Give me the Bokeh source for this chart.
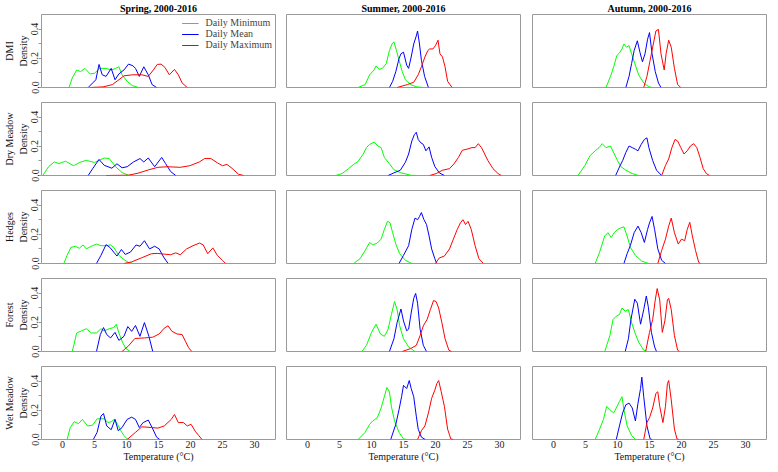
from bokeh.plotting import figure
from bokeh.layouts import gridplot
from bokeh.models import (FixedTicker, LinearAxis, Range1d, Legend, LegendItem,
                          PrintfTickFormatter)
from bokeh.embed import file_html
from bokeh.resources import INLINE

# ---------------- data ----------------
season_titles = ["Spring, 2000-2016", "Summer, 2000-2016", "Autumn, 2000-2016"]
site_names = ["DMI", "Dry Meadow", "Hedges", "Forest", "Wet Meadow"]
series_names = ["Daily Minimum", "Daily Mean", "Daily Maximum"]
series_colors = ["#00FF00", "#0000FF", "#FF0000"]
x_ticks = [0, 5, 10, 15, 20, 25, 30]
y_ticks = [0.0, 0.2, 0.4]
y_minor_ticks = [0.1, 0.3]

# (temperature, density) pairs
DMI_SPR_MIN = [(1.0,0),(1.5,0.064),(2.2,0.12),(2.8,0.109),(3.5,0.131),(4.3,0.093),(5.0,0.098),(5.8,0.131),(6.8,0.131),(7.6,0.12),(8.3,0.131),(8.8,0.142),(9.3,0.087),(10.1,0.042),(10.9,0.013),(11.9,0)]
DMI_SPR_MEAN = [(4.0,0),(5.2,0.053),(5.7,0.158),(6.2,0.087),(6.8,0.076),(7.6,0.131),(8.2,0.053),(8.8,0.093),(9.6,0.12),(10.3,0.16),(11.0,0.149),(11.4,0.131),(12.0,0.076),(12.7,0.142),(13.4,0.087),(14.0,0.02),(14.7,0)]
DMI_SPR_MAX = [(4.3,0),(6.3,0.004),(7.8,0.02),(8.8,0.053),(9.6,0.08),(10.9,0.087),(12.4,0.087),(13.4,0.076),(14.2,0.12),(14.8,0.158),(15.4,0.16),(16.0,0.138),(16.7,0.087),(17.5,0.124),(18.1,0.087),(18.7,0.031),(19.5,0)]

DRY_SPR_MIN = [(-3.1,0),(-2.2,0.06),(-1.3,0.093),(-0.56,0.082),(0.46,0.098),(1.7,0.067),(2.7,0.09),(3.7,0.104),(5.0,0.089),(6.5,0.12),(7.3,0.116),(8.3,0.06),(9.3,0.02),(10.3,0.002),(11.1,0)]
DRY_SPR_MEAN = [(4.0,0),(4.75,0.05),(5.7,0.11),(6.5,0.07),(7.7,0.05),(8.5,0.08),(9.3,0.053),(10.1,0.06),(11.1,0.093),(12.1,0.116),(12.7,0.093),(13.4,0.12),(14.4,0.06),(15.5,0.124),(16.1,0.082),(16.9,0.027),(17.7,0)]
DRY_SPR_MAX = [(6.8,0),(10.3,0.002),(11.8,0.016),(13.4,0.038),(14.9,0.056),(16.4,0.06),(18.4,0.056),(19.9,0.067),(21.4,0.093),(22.2,0.116),(23.2,0.116),(24.2,0.087),(25.0,0.067),(25.7,0.076),(26.5,0.049),(27.5,0.009),(28.3,0)]

HEDGES_SPR_MIN = [(0.2,0),(0.7,0.056),(1.3,0.11),(2.0,0.118),(2.6,0.104),(3.2,0.127),(3.7,0.1),(4.5,0.118),(5.3,0.133),(6.0,0.122),(6.8,0.122),(7.5,0.127),(8.0,0.11),(8.8,0.056),(9.6,0.027),(10.3,0.007),(11.1,0)]
HEDGES_SPR_MEAN = [(5.3,0),(6.0,0.056),(6.8,0.129),(7.4,0.11),(8.0,0.078),(8.5,0.051),(9.2,0.096),(9.8,0.062),(10.6,0.078),(11.5,0.127),(12.1,0.118),(12.8,0.156),(13.6,0.1),(14.4,0.118),(15.1,0.1),(15.8,0.044),(16.5,0)]
HEDGES_SPR_MAX = [(9.6,0),(10.8,0.011),(12.3,0.038),(13.9,0.067),(14.9,0.069),(15.9,0.064),(16.9,0.06),(17.7,0.073),(18.4,0.06),(19.4,0.1),(20.4,0.122),(21.4,0.14),(22.0,0.127),(22.7,0.067),(23.5,0.107),(24.2,0.056),(25.0,0.022),(25.5,0)]

FOREST_SPR_MIN = [(1.5,0),(1.8,0.05),(2.2,0.127),(3.0,0.142),(3.7,0.156),(4.5,0.127),(5.3,0.127),(6.0,0.156),(6.5,0.142),(7.3,0.156),(8.0,0.164),(8.4,0.187),(8.8,0.127),(9.4,0.06),(9.9,0.02),(10.6,0)]
FOREST_SPR_MEAN = [(5.3,0),(5.9,0.116),(6.4,0.164),(6.9,0.116),(7.5,0.093),(8.2,0.131),(8.8,0.076),(9.6,0.104),(10.2,0.171),(10.8,0.138),(11.4,0.178),(12.1,0.104),(12.8,0.198),(13.5,0.104),(14.1,0)]
FOREST_SPR_MAX = [(9.3,0),(10.3,0.038),(11.3,0.089),(12.8,0.093),(14.1,0.098),(15.1,0.12),(15.9,0.16),(16.5,0.176),(17.1,0.138),(17.9,0.12),(18.7,0.116),(19.2,0.071),(19.7,0.027),(20.2,0)]

WET_SPR_MIN = [(0.7,0),(1.2,0.082),(1.8,0.122),(2.5,0.109),(3.1,0.138),(3.9,0.093),(4.7,0.098),(5.4,0.142),(6.5,0.142),(7.1,0.116),(7.6,0.122),(8.1,0.138),(8.6,0.104),(9.1,0.06),(9.6,0.027),(10.1,0.004),(10.6,0)]
WET_SPR_MEAN = [(4.8,0),(5.4,0.049),(6.0,0.16),(6.4,0.178),(6.9,0.093),(7.6,0.067),(8.2,0.138),(8.7,0.06),(9.3,0.082),(10.1,0.138),(10.8,0.153),(11.4,0.138),(12.0,0.082),(12.6,0.116),(13.4,0.133),(14.0,0.082),(14.7,0.016),(15.2,0)]
WET_SPR_MAX = [(10.1,0),(11.4,0.049),(12.4,0.087),(13.9,0.082),(14.9,0.078),(15.9,0.093),(17.0,0.138),(17.5,0.171),(18.1,0.116),(18.9,0.116),(19.5,0.093),(20.1,0.104),(20.8,0.053),(21.3,0.027),(21.8,0)]

DMI_SUM_MIN = [(7.9,0),(9.0,0.02),(9.7,0.087),(10.4,0.12),(10.7,0.147),(11.2,0.124),(11.7,0.131),(12.3,0.164),(12.8,0.253),(13.2,0.298),(13.5,0.313),(13.9,0.253),(14.3,0.187),(14.8,0.109),(15.3,0.053),(16.1,0.02),(17.1,0.004),(18.1,0)]
DMI_SUM_MEAN = [(12.8,0),(13.3,0.042),(13.8,0.109),(14.3,0.198),(14.6,0.231),(15.0,0.242),(15.5,0.153),(15.8,0.131),(16.2,0.209),(16.6,0.298),(17.0,0.353),(17.2,0.387),(17.5,0.298),(17.8,0.187),(18.3,0.076),(18.9,0)]
DMI_SUM_MAX = [(14.0,0),(15.6,0.02),(16.6,0.036),(17.3,0.087),(17.8,0.142),(18.35,0.209),(18.8,0.253),(19.1,0.264),(19.6,0.264),(20.0,0.287),(20.4,0.324),(20.7,0.231),(21.1,0.209),(21.5,0.142),(21.9,0.042),(22.6,0)]

DRY_SUM_MIN = [(4.4,0),(5.4,0.013),(6.4,0.047),(7.2,0.076),(7.9,0.096),(8.7,0.147),(9.2,0.191),(9.7,0.213),(10.4,0.229),(11.0,0.202),(11.5,0.191),(12.0,0.124),(12.8,0.08),(13.5,0.04),(14.5,0.02),(16.1,0.002),(17.1,0)]
DRY_SUM_MEAN = [(12.6,0),(13.5,0.018),(14.5,0.036),(15.3,0.091),(15.8,0.147),(16.3,0.236),(16.7,0.28),(17.0,0.296),(17.3,0.247),(17.7,0.224),(18.1,0.213),(18.5,0.169),(19.0,0.196),(19.4,0.124),(19.9,0.062),(20.6,0.018),(21.4,0)]
DRY_SUM_MAX = [(19.1,0),(20.1,0.013),(21.1,0.036),(22.2,0.047),(22.9,0.08),(23.6,0.124),(24.2,0.173),(24.9,0.18),(25.7,0.191),(26.2,0.191),(26.7,0.218),(27.2,0.191),(27.7,0.147),(28.2,0.102),(29.0,0.047),(29.8,0.013),(30.3,0)]

HEDGES_SUM_MIN = [(7.2,0),(8.2,0.033),(9.0,0.089),(9.7,0.144),(10.2,0.127),(10.9,0.14),(11.5,0.167),(12.0,0.233),(12.5,0.289),(12.9,0.278),(13.3,0.211),(13.8,0.133),(14.4,0.067),(15.3,0.022),(16.3,0)]
HEDGES_SUM_MEAN = [(14.3,0),(15.0,0.056),(15.8,0.122),(16.3,0.233),(16.8,0.311),(17.2,0.3),(17.5,0.322),(17.8,0.349),(18.2,0.3),(18.6,0.267),(19.0,0.189),(19.4,0.1),(19.9,0.033),(20.2,0)]
HEDGES_SUM_MAX = [(20.0,0),(20.6,0.038),(21.4,0.051),(22.2,0.1),(22.8,0.167),(23.4,0.233),(23.9,0.278),(24.3,0.3),(24.7,0.267),(25.1,0.289),(25.6,0.233),(26.2,0.122),(26.8,0.033),(27.5,0)]

FOREST_SUM_MIN = [(8.5,0),(9.2,0.042),(10.0,0.131),(10.7,0.187),(11.4,0.12),(12.0,0.104),(12.6,0.153),(13.1,0.253),(13.6,0.342),(14.0,0.287),(14.4,0.176),(15.0,0.087),(15.8,0.031),(16.8,0)]
FOREST_SUM_MEAN = [(12.8,0),(13.5,0.087),(14.0,0.198),(14.6,0.291),(15.0,0.209),(15.5,0.142),(15.8,0.153),(16.2,0.264),(16.6,0.364),(16.9,0.398),(17.2,0.331),(17.6,0.153),(18.1,0.042),(18.6,0)]
FOREST_SUM_MAX = [(14.8,0),(16.1,0.02),(17.0,0.042),(17.6,0.109),(18.1,0.176),(18.7,0.22),(19.2,0.287),(19.7,0.349),(20.1,0.342),(20.5,0.298),(21.0,0.198),(21.5,0.087),(22.1,0.009),(22.5,0)]

WET_SUM_MIN = [(7.9,0),(9.0,0.049),(9.7,0.104),(10.2,0.127),(10.9,0.149),(11.5,0.216),(12.0,0.293),(12.4,0.356),(12.8,0.327),(13.1,0.227),(13.6,0.127),(14.3,0.049),(15.0,0.004),(15.5,0)]
WET_SUM_MEAN = [(13.0,0),(13.8,0.104),(14.3,0.204),(14.7,0.293),(15.0,0.371),(15.5,0.349),(15.9,0.404),(16.2,0.349),(16.6,0.293),(17.0,0.16),(17.3,0.071),(17.8,0.016),(18.4,0)]
WET_SUM_MAX = [(17.2,0),(17.8,0.06),(18.35,0.093),(18.9,0.182),(19.4,0.282),(19.9,0.338),(20.2,0.382),(20.5,0.404),(20.9,0.327),(21.4,0.227),(21.9,0.071),(22.4,0.004),(22.8,0)]

DMI_AUT_MIN = [(8.2,0),(8.9,0.076),(9.4,0.142),(9.9,0.22),(10.3,0.236),(10.7,0.264),(11.0,0.298),(11.4,0.276),(11.8,0.287),(12.2,0.231),(12.7,0.164),(13.3,0.087),(14.1,0.031),(14.9,0.004),(15.5,0)]
DMI_AUT_MEAN = [(11.3,0),(11.8,0.076),(12.2,0.164),(12.6,0.253),(13.1,0.32),(13.5,0.242),(13.9,0.176),(14.3,0.231),(14.7,0.331),(15.0,0.376),(15.4,0.231),(15.9,0.109),(16.4,0.031),(16.8,0)]
DMI_AUT_MAX = [(14.1,0),(14.6,0.076),(15.1,0.187),(15.6,0.298),(16.0,0.387),(16.4,0.398),(16.8,0.231),(17.3,0.12),(17.6,0.231),(18.0,0.324),(18.4,0.276),(18.9,0.131),(19.4,0.02),(19.9,0)]

DRY_AUT_MIN = [(3.8,0),(4.2,0.024),(4.9,0.069),(5.7,0.136),(6.5,0.169),(7.1,0.191),(7.6,0.218),(8.2,0.191),(8.9,0.202),(9.5,0.147),(10.0,0.102),(10.5,0.062),(11.3,0.036),(12.3,0.013),(13.3,0)]
DRY_AUT_MEAN = [(9.7,0),(10.3,0.058),(10.8,0.102),(11.3,0.158),(11.8,0.202),(12.3,0.191),(12.8,0.18),(13.2,0.169),(13.7,0.213),(14.2,0.247),(14.6,0.258),(14.9,0.191),(15.5,0.102),(16.1,0.036),(16.9,0)]
DRY_AUT_MAX = [(16.9,0),(17.5,0.069),(18.0,0.113),(18.5,0.191),(19.0,0.247),(19.4,0.236),(19.9,0.191),(20.4,0.147),(20.9,0.169),(21.4,0.202),(21.9,0.218),(22.4,0.191),(22.9,0.124),(23.4,0.047),(23.9,0.013),(24.4,0)]

HEDGES_AUT_MIN = [(6.5,0),(7.2,0.078),(8.0,0.189),(8.5,0.211),(9.0,0.178),(9.5,0.211),(10.0,0.233),(10.5,0.244),(11.0,0.251),(11.5,0.189),(12.0,0.111),(12.8,0.056),(13.8,0.016),(14.9,0)]
HEDGES_AUT_MEAN = [(11.0,0),(11.5,0.067),(12.0,0.122),(12.6,0.211),(13.2,0.256),(13.7,0.211),(14.2,0.144),(14.7,0.233),(15.0,0.278),(15.4,0.322),(15.8,0.233),(16.3,0.1),(16.9,0.022),(17.5,0)]
HEDGES_AUT_MAX = [(16.3,0),(16.9,0.089),(17.5,0.167),(18.0,0.256),(18.4,0.311),(18.9,0.211),(19.5,0.133),(20.0,0.167),(20.5,0.156),(20.9,0.233),(21.3,0.282),(21.7,0.189),(22.2,0.089),(22.7,0.007),(23.0,0)]

FOREST_AUT_MIN = [(8.0,0),(8.8,0.109),(9.3,0.22),(9.8,0.242),(10.3,0.253),(10.7,0.298),(11.2,0.276),(11.7,0.287),(12.2,0.198),(12.7,0.131),(13.3,0.064),(14.1,0.009),(14.6,0)]
FOREST_AUT_MEAN = [(11.2,0),(11.7,0.087),(12.1,0.22),(12.7,0.358),(13.1,0.331),(13.6,0.187),(14.1,0.287),(14.5,0.38),(14.8,0.309),(15.3,0.131),(15.8,0.031),(16.1,0)]
FOREST_AUT_MAX = [(14.4,0),(15.0,0.131),(15.5,0.22),(15.9,0.353),(16.2,0.431),(16.6,0.353),(17.0,0.131),(17.4,0.209),(17.8,0.353),(18.0,0.364),(18.4,0.287),(18.9,0.109),(19.4,0.009),(19.7,0)]

WET_AUT_MIN = [(6.5,0),(7.2,0.071),(7.8,0.138),(8.3,0.227),(8.8,0.204),(9.4,0.182),(9.8,0.216),(10.3,0.26),(10.7,0.293),(11.0,0.204),(11.5,0.093),(12.2,0.027),(12.8,0)]
WET_AUT_MEAN = [(9.8,0),(10.3,0.093),(10.8,0.182),(11.3,0.238),(11.8,0.249),(12.3,0.216),(12.8,0.127),(13.2,0.249),(13.6,0.349),(13.8,0.427),(14.1,0.293),(14.6,0.093),(15.1,0.004),(15.4,0)]
WET_AUT_MAX = [(14.1,0),(14.6,0.116),(15.0,0.149),(15.5,0.216),(16.0,0.316),(16.3,0.327),(16.6,0.227),(17.1,0.116),(17.5,0.227),(17.8,0.382),(18.0,0.404),(18.4,0.271),(18.9,0.071),(19.3,0.004),(19.6,0)]

panel_curves = [
    [[DMI_SPR_MIN, DMI_SPR_MEAN, DMI_SPR_MAX], [DMI_SUM_MIN, DMI_SUM_MEAN, DMI_SUM_MAX], [DMI_AUT_MIN, DMI_AUT_MEAN, DMI_AUT_MAX]],
    [[DRY_SPR_MIN, DRY_SPR_MEAN, DRY_SPR_MAX], [DRY_SUM_MIN, DRY_SUM_MEAN, DRY_SUM_MAX], [DRY_AUT_MIN, DRY_AUT_MEAN, DRY_AUT_MAX]],
    [[HEDGES_SPR_MIN, HEDGES_SPR_MEAN, HEDGES_SPR_MAX], [HEDGES_SUM_MIN, HEDGES_SUM_MEAN, HEDGES_SUM_MAX], [HEDGES_AUT_MIN, HEDGES_AUT_MEAN, HEDGES_AUT_MAX]],
    [[FOREST_SPR_MIN, FOREST_SPR_MEAN, FOREST_SPR_MAX], [FOREST_SUM_MIN, FOREST_SUM_MEAN, FOREST_SUM_MAX], [FOREST_AUT_MIN, FOREST_AUT_MEAN, FOREST_AUT_MAX]],
    [[WET_SPR_MIN, WET_SPR_MEAN, WET_SPR_MAX], [WET_SUM_MIN, WET_SUM_MEAN, WET_SUM_MAX], [WET_AUT_MIN, WET_AUT_MEAN, WET_AUT_MAX]],
]

# ---------------- styling ----------------
SERIF = "Liberation Serif"
FRAME_W, FRAME_H = 234, 73
LEFT_B = [30, 1, 1]
RIGHT_B = [10, 11, 1]
GRAY = "#9a9a9a"

rows = []
for r, site in enumerate(site_names):
    row = []
    for c in range(3):
        top_b = 4 if r == 0 else 8
        bot_b = 18 if r == 4 else 7
        p = figure(frame_width=FRAME_W, frame_height=FRAME_H,
                   x_range=Range1d(-3.3, 33.3), y_range=Range1d(0, 0.5),
                   output_backend="svg", toolbar_location=None,
                   title=(season_titles[c] if r == 0 else None),
                   x_axis_location=("below" if r == 4 else None),
                   y_axis_location=("left" if c == 0 else None),
                   min_border_left=LEFT_B[c], min_border_right=RIGHT_B[c],
                   min_border_top=top_b, min_border_bottom=bot_b)
        p.grid.visible = False
        p.outline_line_color = GRAY
        p.outline_line_width = 1
        p.background_fill_color = "white"
        p.border_fill_color = "white"
        if r == 0:
            p.title.align = "center"
            p.title.text_font = SERIF
            p.title.text_font_size = "10px"
            p.title.text_font_style = "bold"
            p.title.text_color = "black"
            p.title.standoff = 1
            p.title.offset = 0
        if r == 4:
            xa = p.xaxis[0]
            xa.ticker = FixedTicker(ticks=x_ticks)
            xa.axis_label = "Temperature (°C)"
            xa.axis_line_color = None
            xa.major_tick_out = 0
            xa.major_tick_in = 0
            xa.minor_tick_out = 0
            xa.minor_tick_in = 0
            xa.major_label_standoff = 1
            xa.axis_label_standoff = 0
            xa.major_label_text_font = SERIF
            xa.major_label_text_font_size = "10px"
            xa.major_label_text_color = "#222222"
            xa.axis_label_text_font = SERIF
            xa.axis_label_text_font_size = "10px"
            xa.axis_label_text_font_style = "normal"
            xa.axis_label_text_color = "#111111"
        if c == 0:
            ya = p.yaxis[0]
            ya.ticker = FixedTicker(ticks=y_ticks, minor_ticks=y_minor_ticks)
            ya.formatter = PrintfTickFormatter(format="%.1f")
            ya.major_label_orientation = "vertical"
            ya.axis_label = "Density"
            ya.axis_line_color = None
            ya.major_tick_line_color = GRAY
            ya.minor_tick_line_color = GRAY
            ya.major_tick_out = 3
            ya.major_tick_in = 0
            ya.minor_tick_out = 3
            ya.minor_tick_in = 0
            ya.major_label_standoff = 0
            ya.axis_label_standoff = 0
            ya.major_label_text_font = SERIF
            ya.major_label_text_font_size = "10px"
            ya.major_label_text_color = "#222222"
            ya.axis_label_text_font = SERIF
            ya.axis_label_text_font_size = "10px"
            ya.axis_label_text_font_style = "normal"
            ya.axis_label_text_color = "#111111"
            site_axis = LinearAxis(axis_label=site, ticker=FixedTicker(ticks=[]),
                                   axis_line_color=None, major_tick_out=0, major_tick_in=0,
                                   minor_tick_out=0, minor_tick_in=0,
                                   major_label_text_font_size="0px",
                                   major_label_standoff=0, axis_label_standoff=0,
                                   axis_label_text_font=SERIF,
                                   axis_label_text_font_size="10px",
                                   axis_label_text_font_style="normal",
                                   axis_label_text_color="#111111")
            p.add_layout(site_axis, "left")
        renderers = []
        for k, pts in enumerate(panel_curves[r][c]):
            xs = [pt[0] for pt in pts]
            ys = [pt[1] for pt in pts]
            rr = p.line(xs, ys, line_color=series_colors[k], line_width=1)
            renderers.append(rr)
        if r == 0 and c == 0:
            legend = Legend(items=[LegendItem(label=series_names[k], renderers=[renderers[k]])
                                   for k in range(3)],
                            location="top_right", border_line_color=None,
                            background_fill_alpha=0, label_text_font=SERIF,
                            label_text_font_size="10px", glyph_width=17, glyph_height=10,
                            label_height=10, spacing=0, padding=3, margin=3,
                            label_standoff=7)
            p.add_layout(legend)
        row.append(p)
    rows.append(row)

grid = gridplot(rows, toolbar_location=None)

open("out.html", "w").write(file_html(grid, INLINE))
